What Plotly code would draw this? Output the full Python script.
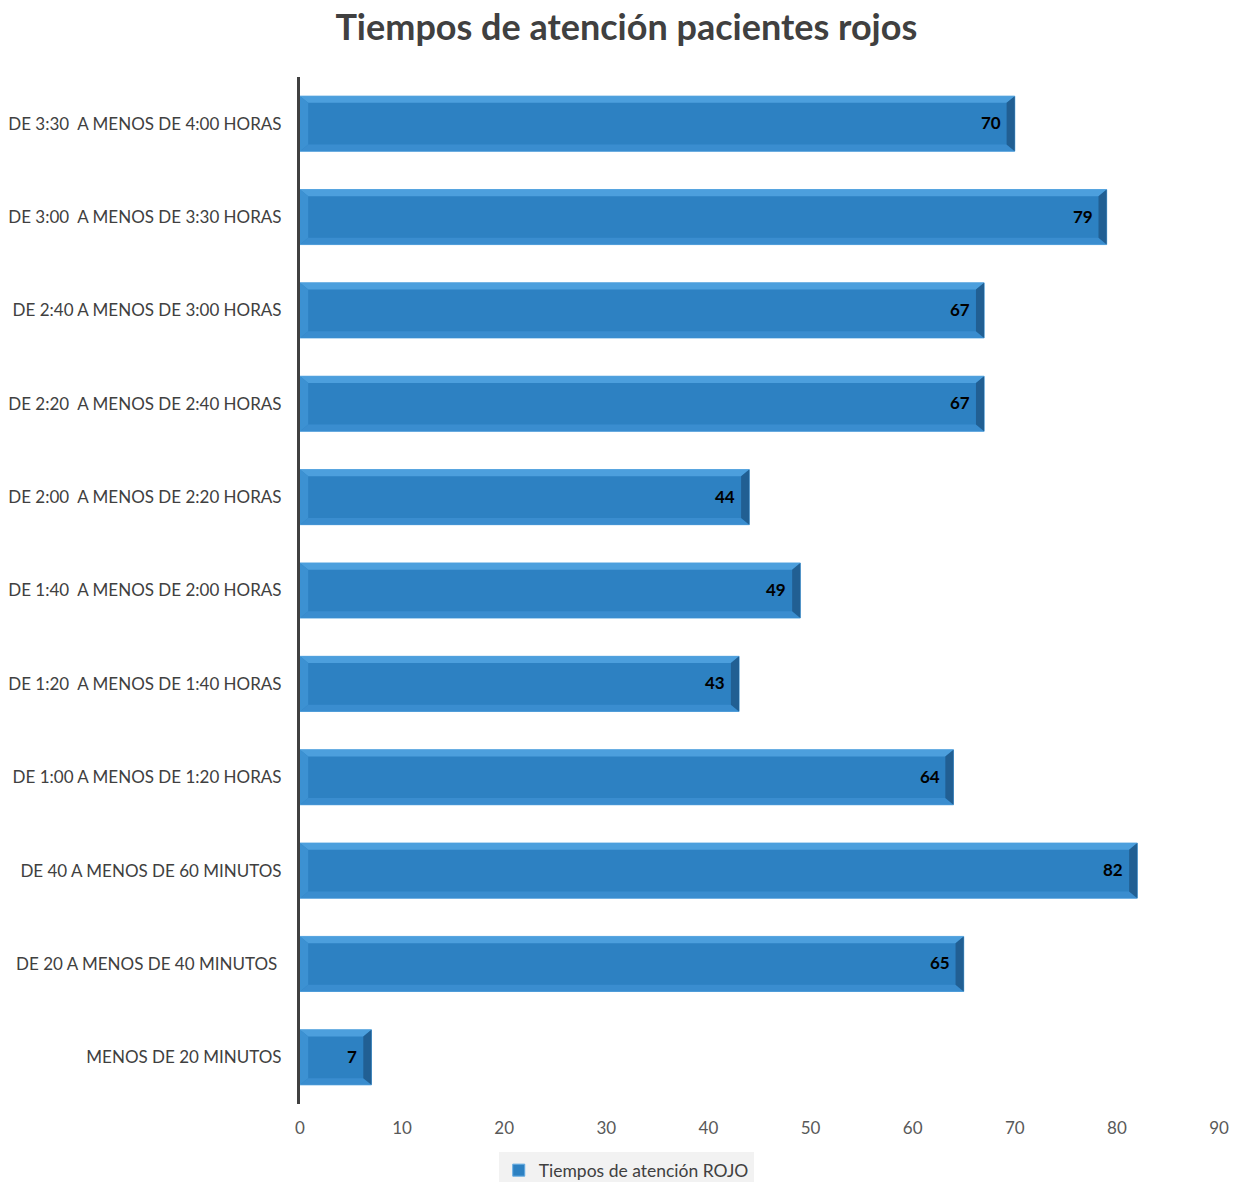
import plotly.graph_objects as go

# Categories listed bottom to top
categorias = [
    "MENOS DE 20 MINUTOS",
    "DE 20 A MENOS DE 40 MINUTOS\u00a0",
    "DE 40 A MENOS DE 60 MINUTOS",
    "DE 1:00 A MENOS DE 1:20 HORAS",
    "DE 1:20\u00a0\u00a0A MENOS DE 1:40 HORAS",
    "DE 1:40\u00a0\u00a0A MENOS DE 2:00 HORAS",
    "DE 2:00\u00a0\u00a0A MENOS DE 2:20 HORAS",
    "DE 2:20\u00a0\u00a0A MENOS DE 2:40 HORAS",
    "DE 2:40 A MENOS DE 3:00 HORAS",
    "DE 3:00\u00a0\u00a0A MENOS DE 3:30 HORAS",
    "DE 3:30\u00a0\u00a0A MENOS DE 4:00 HORAS",
]
pacientes = [7, 65, 82, 64, 43, 49, 44, 67, 67, 79, 70]
ticks_x = [0, 10, 20, 30, 40, 50, 60, 70, 80, 90]

FONT = "Lato"
BAR_W = 0.59
half = BAR_W / 2
bev_y = 0.072   # bevel depth in category units
bev_x = 0.8     # bevel depth in value units

fig = go.Figure()
fig.add_trace(go.Bar(
    y=categorias,
    x=pacientes,
    orientation="h",
    width=BAR_W,
    name="Tiempos de atención ROJO",
    marker=dict(color="#2D81C2", line=dict(color="#62ABE2", width=1)),
))

# Bevel edges drawn over each bar
shapes = []
for i, v in enumerate(pacientes):
    y0, y1 = i - half, i + half
    bx = min(bev_x, v * 0.15)
    faces = [
        (f"M 0 {y1} L {v} {y1} L {v-bx} {y1-bev_y} L {bx} {y1-bev_y} Z", "#4C9FDD"),
        (f"M 0 {y0} L {v} {y0} L {v-bx} {y0+bev_y} L {bx} {y0+bev_y} Z", "#3A8DCF"),
        (f"M 0 {y0} L 0 {y1} L {bx} {y1-bev_y} L {bx} {y0+bev_y} Z", "#3C91D2"),
        (f"M {v} {y0} L {v} {y1} L {v-bx} {y1-bev_y} L {v-bx} {y0+bev_y} Z", "#215F93"),
    ]
    for path, col in faces:
        shapes.append(dict(type="path", path=path, xref="x", yref="y",
                           fillcolor=col, line=dict(width=0), layer="above"))

# Value labels at the inner end of each bar
annotations = [
    dict(x=v, y=cat, xref="x", yref="y", text=f"<b>{v}</b>", showarrow=False,
         xanchor="right", yanchor="middle", xshift=-12, yshift=1,
         font=dict(family=FONT, size=17, color="#000000"))
    for cat, v in zip(categorias, pacientes)
]

fig.update_layout(
    width=1233, height=1182,
    paper_bgcolor="white", plot_bgcolor="white",
    margin=dict(l=300, r=14, t=77, b=78, autoexpand=False),
    title=dict(text="<b>Tiempos de atención pacientes rojos</b>",
               x=0.508, xanchor="center", xref="container",
               y=0.977, yanchor="middle",
               font=dict(family=FONT, size=36, color="#404040")),
    font=dict(family=FONT, size=17, color="#404040"),
    showlegend=True,
    legend=dict(orientation="h", x=0.355, xanchor="center",
                y=-0.047, yanchor="top", bgcolor="#F2F2F2",
                font=dict(family=FONT, size=17.5, color="#404040"),
                itemwidth=30),
    shapes=shapes,
    annotations=annotations,
)

fig.update_xaxes(range=[0, 90], tickvals=ticks_x, showgrid=False, zeroline=False,
                 showline=False, ticks="", ticklabelstandoff=12,
                 automargin=False,
                 tickfont=dict(family=FONT, size=17, color="#595959"))
fig.update_yaxes(type="category", categoryorder="array", categoryarray=categorias,
                 range=[-0.5, len(categorias) - 0.5],
                 showgrid=False, zeroline=False, showline=True,
                 linecolor="#404040", linewidth=3, ticks="",
                 ticklabelstandoff=12, automargin=False,
                 tickfont=dict(family=FONT, size=17, color="#404040"))

fig.write_html("out.html")
